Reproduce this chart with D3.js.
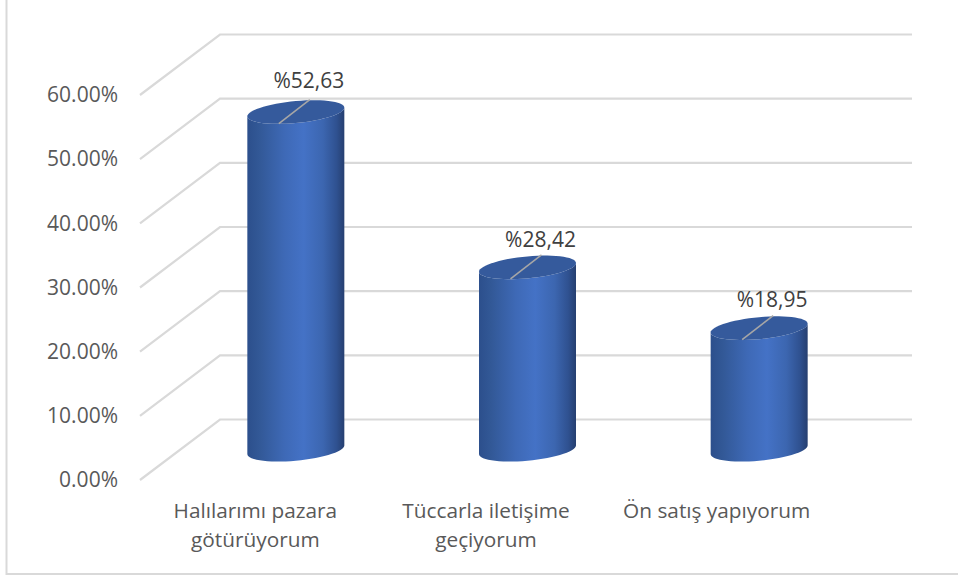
<!DOCTYPE html>
<html><head><meta charset="utf-8">
<script src="https://cdnjs.cloudflare.com/ajax/libs/d3/7.8.5/d3.min.js"></script>
<style>
html,body{margin:0;padding:0;background:#fff;overflow:hidden}
text{font-family:"Open Sans",Lato,sans-serif}
</style></head><body>
<svg id="c" width="958" height="579"></svg>
<script>
const categories = ["Halılarımı pazara|götürüyorum", "Tüccarla iletişime|geçiyorum", "Ön satış yapıyorum"];
const values = [52.63, 28.42, 18.95];
const valueLabels = ["%52,63", "%28,42", "%18,95"];
const ticks = [0, 10, 20, 30, 40, 50, 60];

const W = 958, H = 579;
const depth = {dx: 80, dy: -60.5};
const svg = d3.select("#c");
const labelNudge = [[0, 0], [0, 4], [0, 3]];

const yFront = d3.scaleLinear().domain([0, 60]).range([480, 95]);
const xFront = d3.scaleBand().domain(categories).range([140, 832]);
const xMid = d3.scaleBand().domain(categories).range([180, 875]);
const yMid = v => yFront(v) + depth.dy / 2;
const yBack = v => yFront(v) + depth.dy;

const defs = svg.append("defs");
const g = defs.append("linearGradient").attr("id", "body").attr("x1", 0).attr("x2", 1).attr("y1", 0).attr("y2", 0);
[[0, "#2c4f8c"], [0.12, "#325896"], [0.38, "#3e69b6"], [0.58, "#4472c6"], [0.78, "#3c66b0"], [0.92, "#2f5190"], [1, "#263f70"]]
  .forEach(([o, c]) => g.append("stop").attr("offset", o).attr("stop-color", c));

svg.append("path").attr("d", `M6.5 0V574H${W}`).attr("fill", "none").attr("stroke", "#d9d9d9").attr("stroke-width", 2);

const grid = svg.append("g").attr("fill", "none").attr("stroke", "#d9d9d9").attr("stroke-width", 2.2);
ticks.forEach(t => {
  grid.append("path").attr("d", d3.line()([
    [xFront.range()[0], yFront(t)],
    [xFront.range()[0] + depth.dx, yBack(t)],
    [xFront.range()[1] + depth.dx, yBack(t)]
  ]));
});

const yAxis = d3.axisLeft(yFront).tickValues(ticks).tickSize(0).tickPadding(0).tickFormat(d => d3.format(".2f")(d) + "%");
const ya = svg.append("g").attr("transform", "translate(118,0)").call(yAxis);
ya.select(".domain").remove();
ya.selectAll("text").attr("font-size", 21).attr("fill", "#595959").style("font-family", '"Open Sans"');

const ry = 11, shear = 0.09;
const ts = d3.range(0, 181, 6).map(d => d * Math.PI / 180);
categories.forEach((c, i) => {
  const cx = xMid(c) + xMid.bandwidth() / 2;
  const rx = 48.5;
  const yT = yMid(values[i]), yB = yMid(0);
  const ell = (t, y0) => [cx + rx * Math.cos(t), y0 - shear * rx * Math.cos(t) + ry * Math.sin(t)];
  const bottom = ts.map(t => ell(t, yB));
  const topBack = ts.map(t => ell(t, yT)).reverse();
  svg.append("path").attr("d", d3.line()([...bottom, ...topBack]) + "Z").attr("fill", "url(#body)");
  const full = d3.range(0, 360, 6).map(d => ell(d * Math.PI / 180, yT));
  svg.append("path").attr("d", d3.line()(full) + "Z").attr("fill", "#355a9c");
  const x0 = cx - 17, y0 = yT + 11.5;
  svg.append("line").attr("x1", x0).attr("y1", y0).attr("x2", x0 + 31).attr("y2", y0 - 24)
    .attr("stroke", "#a6a6a6").attr("stroke-width", 1.6);
  svg.append("text").attr("x", x0 + 30 + labelNudge[i][0]).attr("y", y0 - 36 + labelNudge[i][1]).attr("text-anchor", "middle")
    .attr("font-size", 21).attr("fill", "#404040").text(valueLabels[i]);
});

const xAxis = d3.axisBottom(xFront).tickSize(0).tickFormat("");
const xa = svg.append("g").attr("transform", "translate(0,480)").call(xAxis);
xa.select(".domain").remove();
xa.selectAll(".tick").each(function(c) {
  const t = d3.select(this).select("text").text(null).attr("y", 0).attr("dy", null)
    .attr("font-size", 20.8).attr("fill", "#595959").attr("text-anchor", "middle").style("font-family", '"Open Sans"');
  c.split("|").forEach((line, k) => t.append("tspan").attr("x", 0).attr("y", 38 + k * 29).text(line));
});
</script>
</body></html>
